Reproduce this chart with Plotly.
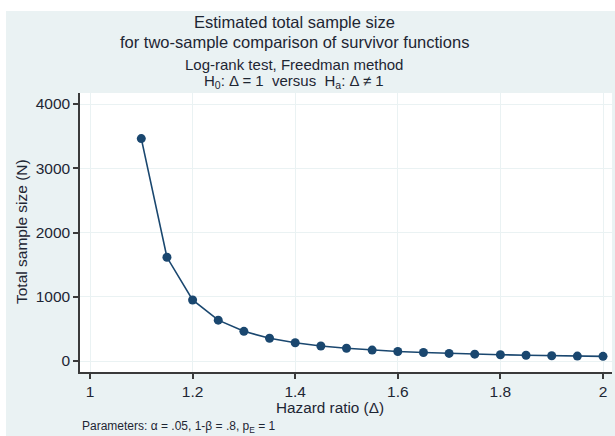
import plotly.graph_objects as go

hazard_ratio = [1.10, 1.15, 1.20, 1.25, 1.30, 1.35, 1.40, 1.45, 1.50, 1.55,
                1.60, 1.65, 1.70, 1.75, 1.80, 1.85, 1.90, 1.95, 2.00]
total_n = [3462, 1614, 950, 636, 462, 354, 284, 234, 198, 170,
           148, 132, 118, 106, 98, 90, 82, 76, 72]
x_ticks = [1, 1.2, 1.4, 1.6, 1.8, 2]
x_tick_labels = ["1", "1.2", "1.4", "1.6", "1.8", "2"]
y_ticks = [0, 1000, 2000, 3000, 4000]
y_tick_labels = ["0", "1000", "2000", "3000", "4000"]

W, H = 615, 436
L, R, T, B = 80, 3, 93, 64
pw, ph = W - L - R, H - T - B

def px(x):
    return (x - L) / pw

def py(y):
    return (H - B - y) / ph

navy = "#1a476f"
txt = "#1e2633"
bg = "#eaf2f3"
font = "Liberation Sans, Arial, sans-serif"

fig = go.Figure()
fig.add_trace(go.Scatter(
    x=hazard_ratio, y=total_n, mode="lines+markers",
    line=dict(color=navy, width=1.6),
    marker=dict(color=navy, size=9, line=dict(width=0)),
    showlegend=False, hoverinfo="x+y",
))

annots = [
    ("Estimated total sample size", 22, 16.5),
    ("for two-sample comparison of survivor functions", 42, 16.5),
    ("Log-rank test, Freedman method", 65, 15),
    ("H<sub>0</sub>: Δ = 1  versus  H<sub>a</sub>: Δ ≠ 1", 82, 15),
]
anns = []
for text, ypx, size in annots:
    anns.append(dict(text=text, xref="paper", yref="paper", x=px(294), y=py(ypx),
                     xanchor="center", yanchor="middle", showarrow=False,
                     font=dict(family=font, size=size, color=txt)))
anns.append(dict(text="Hazard ratio (Δ)", xref="paper", yref="paper", x=px(330), y=py(408),
                 xanchor="center", yanchor="middle", showarrow=False,
                 font=dict(family=font, size=15.3, color=txt)))
anns.append(dict(text="Total sample size (N)", xref="paper", yref="paper", x=px(21), y=py(232),
                 xanchor="center", yanchor="middle", showarrow=False, textangle=-90,
                 font=dict(family=font, size=15.5, color=txt)))
anns.append(dict(text="Parameters: α = .05, 1-β = .8, p<sub>E</sub> = 1", xref="paper", yref="paper",
                 x=px(80), y=py(427), xanchor="left", yanchor="middle", showarrow=False,
                 font=dict(family=font, size=12, color=txt)))

shapes = [
    dict(type="rect", xref="paper", yref="paper", x0=px(-5), x1=px(W + 5), y0=py(11), y1=py(-5),
         fillcolor="white", line=dict(width=0), layer="below"),
    dict(type="rect", xref="paper", yref="paper", x0=px(-5), x1=px(6), y0=py(H + 5), y1=py(-5),
         fillcolor="white", line=dict(width=0), layer="below"),
]

fig.update_layout(
    width=W, height=H,
    margin=dict(l=L, r=R, t=T, b=B, pad=0),
    paper_bgcolor=bg, plot_bgcolor="white",
    font=dict(family=font, color=txt, size=14),
    annotations=anns, shapes=shapes,
    xaxis=dict(range=[1 - 10 / 513, 1 + (W - R - 90) / 513],
               tickvals=x_ticks, ticktext=x_tick_labels,
               showgrid=True, gridcolor=bg, gridwidth=1.2, zeroline=False,
               showline=True, linecolor="#3a3a3a", linewidth=1.5,
               ticks="outside", ticklen=5, tickwidth=1.5, tickcolor="#3a3a3a",
               tickfont=dict(size=15.5, color=txt)),
    yaxis=dict(range=[-(372 - 361) / 0.06425, (361 - 93) / 0.06425],
               tickvals=y_ticks, ticktext=y_tick_labels,
               showgrid=True, gridcolor=bg, gridwidth=1.2, zeroline=False,
               showline=True, linecolor="#3a3a3a", linewidth=1.5,
               ticks="outside", ticklen=5, tickwidth=1.5, tickcolor="#3a3a3a",
               tickfont=dict(size=15.5, color=txt)),
)

fig.write_html("out.html", config={"displayModeBar": False},
               post_script="document.body.style.margin='0';document.body.style.overflow='hidden';")
